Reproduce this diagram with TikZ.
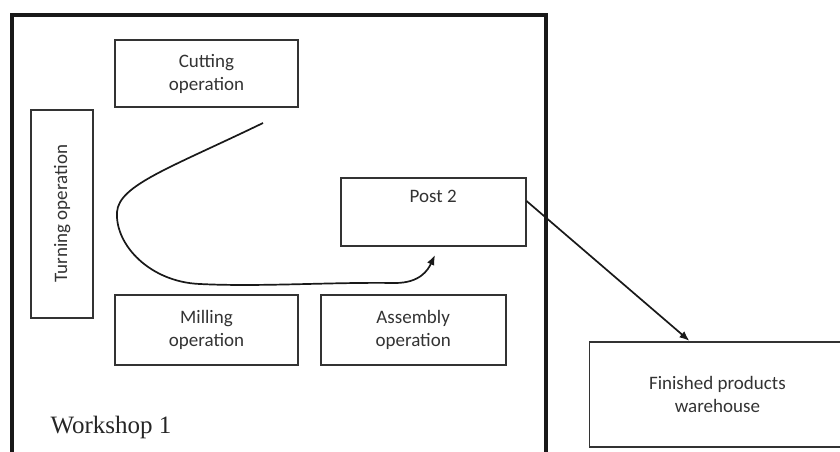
\documentclass[tikz,border=0pt]{standalone}
\usepackage{fontspec}
\setmainfont{Carlito}
\newfontfamily\wsface{Liberation Serif}
\usepackage{tikz}
\usetikzlibrary{positioning, arrows.meta}

\begin{document}
\begin{tikzpicture}[x=1pt,y=1pt,
    box/.style={draw=black!80, line width=1.7pt, align=center, text=black!80,
      font=\fontsize{19}{23}\selectfont, inner sep=2pt},
    link/.style={-{Latex[length=10pt,width=8pt]}, line width=1.7pt, black!90}]
        \useasboundingbox (0,0) rectangle (840,-451);
        \fill[white] (0,0) rectangle (840,-451);

        % workshop walls, open at the bottom
        \draw[line width=3.2pt, black!90] (12,-470) -- (12,-15) -- (546,-15) -- (546,-470);

        \node[box, minimum width=183pt, minimum height=67pt] (cut) at (206.5,-73.5) {Cutting\\operation};
        \node[box, minimum width=183pt, minimum height=70pt] (mill) [below=186pt of cut] {Milling\\operation};
        \node[box, minimum width=185pt, minimum height=70pt] (asm) [right=21pt of mill] {Assembly\\operation};
        \node[box, minimum width=185pt, minimum height=68pt, text height=14pt, text depth=34pt]
          (post) [above=47pt of asm, xshift=20pt] {Post 2};
        \node[box, rotate=90, minimum width=208pt, minimum height=62pt]
          (turn) [below left=1pt and 20pt of cut.south west, anchor=south east] {Turning operation};
        \node[box, minimum width=256pt, minimum height=105pt]
          (store) [below right=94pt and 62pt of post.south east, anchor=north west] {Finished products\\warehouse};

        \node[anchor=base west, text=black!85, font=\wsface\fontsize{25}{30}\selectfont]
          (wslabel) at (47,-433) {Workshop 1};

        \coordinate (flowstart) at (263,-123);
        \coordinate (flowend) at (435,-255);

        \draw[link] (flowstart)
          .. controls (170,-168) and (119,-185) .. (117,-212)
          .. controls (115,-245) and (150,-282) .. (200,-284)
          .. controls (260,-287) and (330,-282) .. (395,-283)
          .. controls (420,-283) and (428,-270) .. (flowend);

        \draw[link] ([yshift=11pt]post.east) -- ([xshift=-28pt]store.north);
      \end{tikzpicture}
\end{document}
